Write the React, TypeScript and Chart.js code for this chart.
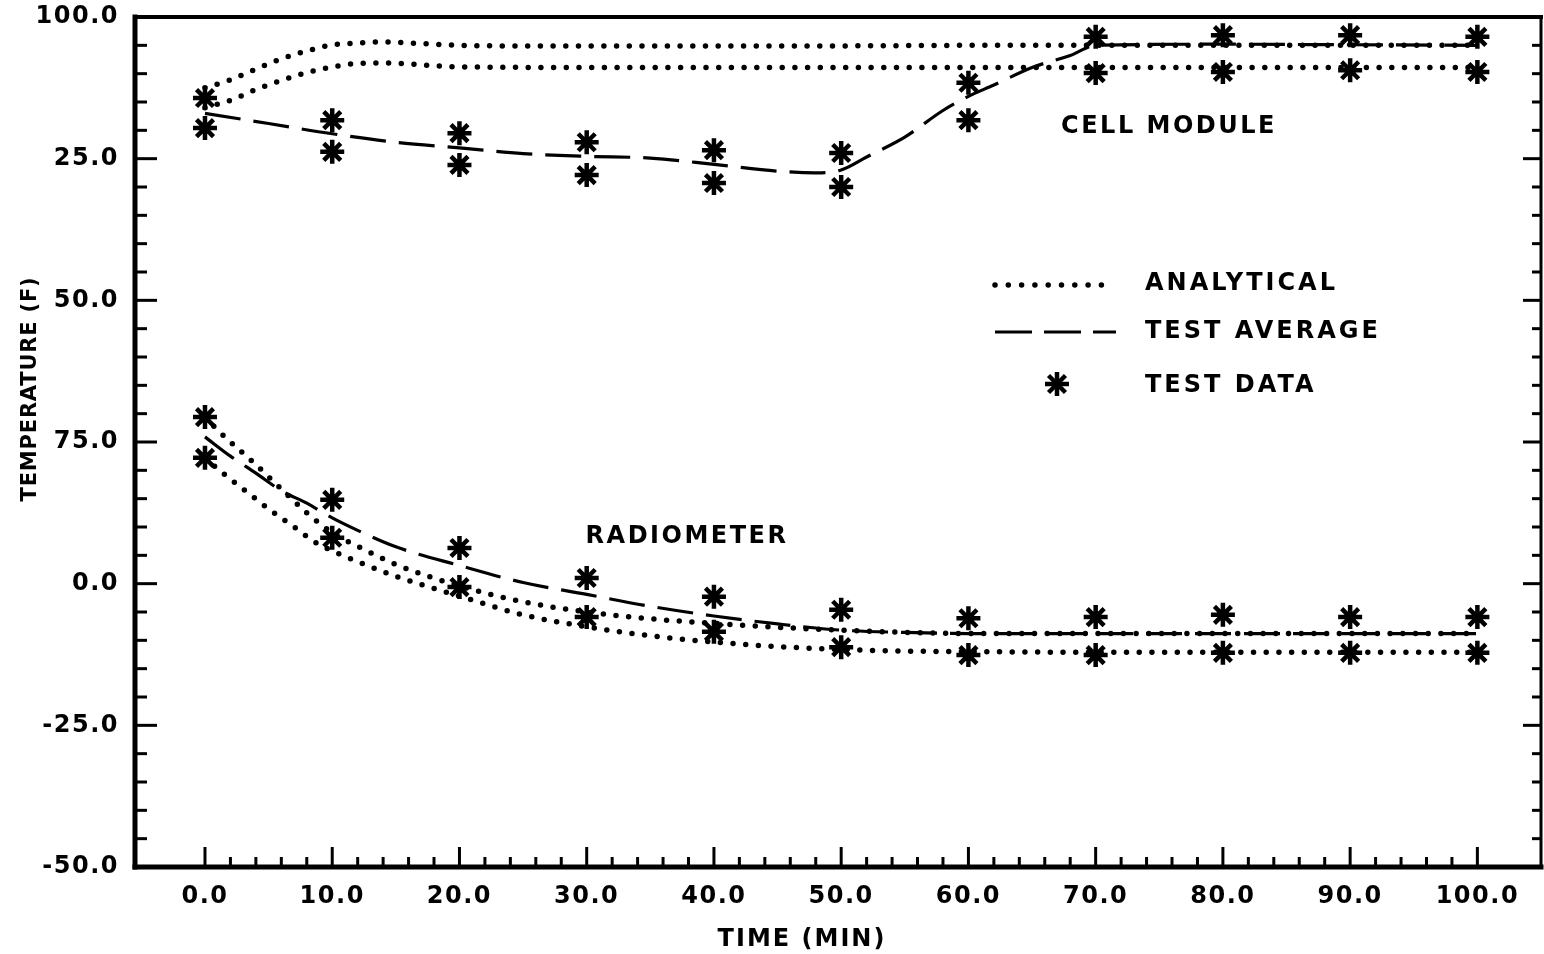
import React, { useEffect, useRef } from 'react';
import { Chart, registerables } from 'chart.js';

Chart.register(...registerables);

// ---- tick labels ----
const X_TICKS = [0, 10, 20, 30, 40, 50, 60, 70, 80, 90, 100];
const Y_TICK_VALUES = [100, 75, 50, 25, 0, -25, -50];
const Y_TICK_LABELS = ['100.0', '25.0', '50.0', '75.0', '0.0', '-25.0', '-50.0'];

// ---- test data (stars) ----
const DATA_TIMES = [0, 10, 20, 30, 40, 50, 60, 70, 80, 90, 100];
const CELL_DATA_HIGH = [85.7, 81.8, 79.5, 77.9, 76.5, 76.0, 88.4, 96.5, 96.8, 96.8, 96.5];
const CELL_DATA_LOW = [80.4, 76.2, 73.9, 72.1, 70.7, 70.0, 81.8, 90.1, 90.3, 90.6, 90.3];
const RAD_DATA_HIGH = [29.4, 14.8, 6.3, 1.0, -2.3, -4.6, -6.1, -5.9, -5.5, -5.9, -5.9];
const RAD_DATA_LOW = [22.2, 8.1, -0.6, -5.9, -8.5, -11.2, -12.6, -12.6, -12.2, -12.2, -12.2];

// ---- cell module analytical (dotted) ----
const CELL_ANA_HIGH_T = [0, 2, 4, 6, 8, 10, 12, 14, 17, 20, 25, 30, 40, 50, 60, 70, 80, 90, 100];
const CELL_ANA_HIGH = [87.5, 88.9, 90.8, 92.6, 94.0, 95.1, 95.4, 95.6, 95.3, 95.0, 94.9, 94.9, 94.9, 94.9, 95.0, 95.0, 95.0, 95.0, 95.0];
const CELL_ANA_LOW_T = [0, 2, 4, 6, 8, 10, 12, 14, 16, 18, 20, 30, 40, 50, 60, 70, 80, 90, 100];
const CELL_ANA_LOW = [84.0, 85.3, 87.2, 88.8, 90.2, 91.2, 91.8, 91.9, 91.7, 91.4, 91.2, 91.1, 91.1, 91.1, 91.1, 91.1, 91.1, 91.1, 91.1];

// ---- cell module test average (dashed) ----
const CELL_AVG_T = [0, 5, 10, 15, 20, 25, 30, 35, 40, 45, 48, 50, 52, 55, 58, 60, 62, 65, 68, 70, 80, 90, 100];
const CELL_AVG = [83.0, 81.2, 79.4, 77.9, 76.9, 75.9, 75.4, 75.1, 74.0, 72.8, 72.5, 73.0, 75.3, 78.8, 83.5, 86.0, 88.0, 91.1, 93.2, 95.0, 95.2, 95.1, 95.0];

// ---- radiometer analytical (dotted) ----
const RAD_ANA_HIGH_T = [0, 1, 2.5, 4, 6, 8, 10, 12, 15, 20, 25, 30, 35, 40, 45, 50, 55, 60, 70, 80, 90, 100];
const RAD_ANA_HIGH = [29.4, 27.1, 24.0, 21.0, 16.7, 12.5, 9.0, 6.6, 3.4, -0.4, -3.2, -5.0, -6.2, -7.0, -7.7, -8.2, -8.6, -8.8, -8.8, -8.8, -8.8, -8.8];
const RAD_ANA_LOW_T = [0, 1.3, 3, 5, 7, 8.6, 10, 12, 15, 20, 25, 30, 35, 40, 45, 50, 55, 60, 70, 80, 90, 100];
const RAD_ANA_LOW = [22.2, 19.7, 16.7, 13.2, 10.0, 7.4, 5.8, 3.9, 1.3, -2.2, -5.5, -7.6, -9.2, -10.3, -11.1, -11.6, -11.9, -12.0, -12.1, -12.1, -12.1, -12.1];

// ---- radiometer test average (dashed) ----
const RAD_AVG_T = [0, 2, 4, 6, 8, 10, 12, 15, 20, 25, 30, 35, 40, 45, 50, 55, 60, 70, 80, 90, 100];
const RAD_AVG = [25.9, 22.5, 19.5, 16.4, 14.2, 11.6, 9.4, 6.5, 3.2, 0.2, -1.9, -4.0, -5.7, -7.1, -8.2, -8.6, -8.8, -8.8, -8.8, -8.8, -8.8];

// ---- texts ----
const X_TITLE = 'TIME (MIN)';
const Y_TITLE = 'TEMPERATURE (F)';
const LEGEND_LABELS = ['ANALYTICAL', 'TEST AVERAGE', 'TEST DATA'];
const ANNOTATIONS = ['CELL MODULE', 'RADIOMETER'];

const FONT = '"DejaVu Sans", sans-serif';

const pts = (xs: number[], ys: number[]) => xs.map((x, i) => ({ x, y: ys[i] }));

const dotted = (xs: number[], ys: number[]) => ({
  data: pts(xs, ys),
  showLine: true,
  pointRadius: 0,
  borderColor: '#000',
  borderWidth: 5.5,
  borderDash: [0, 12.7],
  borderCapStyle: 'round',
  cubicInterpolationMode: 'monotone',
  fill: false,
});

const dashed = (xs: number[], ys: number[]) => ({
  data: pts(xs, ys),
  showLine: true,
  pointRadius: 0,
  borderColor: '#000',
  borderWidth: 3.2,
  borderDash: [36, 13],
  borderCapStyle: 'butt',
  cubicInterpolationMode: 'monotone',
  fill: false,
});

const stars = (xs: number[], ys: number[]) => ({
  data: pts(xs, ys),
  showLine: false,
  pointStyle: 'star',
  pointRadius: 12,
  pointBorderWidth: 4.5,
  pointBorderColor: '#000',
  pointBackgroundColor: '#000',
});

function drawText(ctx: CanvasRenderingContext2D, s: string, x: number, y: number, size: number, align: CanvasTextAlign, spacing: number) {
  ctx.font = `bold ${size}px ${FONT}`;
  (ctx as any).letterSpacing = `${spacing}px`;
  ctx.textAlign = align;
  ctx.textBaseline = 'middle';
  ctx.fillStyle = '#000';
  ctx.fillText(s, x, y);
}

function line(ctx: CanvasRenderingContext2D, x1: number, y1: number, x2: number, y2: number) {
  ctx.beginPath();
  ctx.moveTo(x1, y1);
  ctx.lineTo(x2, y2);
  ctx.stroke();
}

function drawStar(ctx: CanvasRenderingContext2D, x: number, y: number, r: number) {
  for (let k = 0; k < 4; k++) {
    const a = (k * Math.PI) / 4;
    line(ctx, x - r * Math.cos(a), y - r * Math.sin(a), x + r * Math.cos(a), y + r * Math.sin(a));
  }
}

const framePlugin = {
  id: 'frame',
  beforeDraw(chart: any) {
    chart.ctx.letterSpacing = '1.5px';
  },
  afterDraw(chart: any) {
    const { ctx, chartArea: a, scales } = chart;
    const xs = scales.x;
    const ys = scales.y;
    ctx.save();
    ctx.strokeStyle = '#000';
    ctx.setLineDash([]);
    ctx.lineCap = 'square';

    // frame
    ctx.lineWidth = 5;
    line(ctx, a.left, a.top, a.left, a.bottom);
    line(ctx, a.left, a.bottom, a.right, a.bottom);
    ctx.lineWidth = 4;
    line(ctx, a.left, a.top, a.right, a.top);
    ctx.lineWidth = 3;
    line(ctx, a.right, a.top, a.right, a.bottom);

    // inward ticks
    ctx.lineCap = 'butt';
    ctx.lineWidth = 3;
    for (let v = -45; v < 100; v += 5) {
      const y = ys.getPixelForValue(v);
      const major = v % 25 === 0;
      line(ctx, a.left, y, a.left + (major ? 22 : 12), y);
      line(ctx, a.right, y, a.right - (major ? 18 : 9), y);
    }
    for (let v = 0; v <= 100; v += 2) {
      const x = xs.getPixelForValue(v);
      const major = v % 10 === 0;
      line(ctx, x, a.bottom, x, a.bottom - (major ? 20 : 10));
    }

    // axis titles
    drawText(ctx, X_TITLE, a.left + 667, 940, 24, 'center', 2);
    ctx.save();
    ctx.translate(31, a.top + 372);
    ctx.rotate(-Math.PI / 2);
    drawText(ctx, Y_TITLE, 0, 0, 21, 'center', 0.8);
    ctx.restore();

    // annotations
    drawText(ctx, ANNOTATIONS[0], a.left + 1034, a.top + 110, 24, 'center', 2.5);
    drawText(ctx, ANNOTATIONS[1], a.left + 552, a.top + 520, 24, 'center', 2.5);

    // legend
    const lx0 = a.left + 860;
    const lx1 = a.left + 981;
    const tx = a.left + 1010;
    ctx.lineWidth = 5.5;
    ctx.lineCap = 'round';
    ctx.setLineDash([0, 13.3]);
    line(ctx, lx0, a.top + 268, lx1 - 2, a.top + 268);
    ctx.lineCap = 'butt';
    ctx.lineWidth = 3.2;
    ctx.setLineDash([37, 12]);
    line(ctx, lx0, a.top + 315, lx1, a.top + 315);
    ctx.setLineDash([]);
    ctx.lineWidth = 4.5;
    drawStar(ctx, a.left + 922, a.top + 367, 12);
    drawText(ctx, LEGEND_LABELS[0], tx, a.top + 267, 24, 'left', 3);
    drawText(ctx, LEGEND_LABELS[1], tx, a.top + 315, 24, 'left', 3);
    drawText(ctx, LEGEND_LABELS[2], tx, a.top + 369, 24, 'left', 3);

    ctx.restore();
  },
};

const zeroPad = (s: any) => {
  s.paddingTop = 0;
  s.paddingBottom = 0;
  s.paddingLeft = 0;
  s.paddingRight = 0;
};

export default function App() {
  const ref = useRef<HTMLCanvasElement>(null);

  useEffect(() => {
    const tickFont = { family: FONT, weight: 'bold' as const, size: 24 };
    const chart = new Chart(ref.current!, {
      type: 'scatter',
      data: {
        datasets: [
          stars(DATA_TIMES, CELL_DATA_HIGH),
          stars(DATA_TIMES, CELL_DATA_LOW),
          stars(DATA_TIMES, RAD_DATA_HIGH),
          stars(DATA_TIMES, RAD_DATA_LOW),
          dotted(CELL_ANA_HIGH_T, CELL_ANA_HIGH),
          dotted(CELL_ANA_LOW_T, CELL_ANA_LOW),
          dashed(CELL_AVG_T, CELL_AVG),
          dotted(RAD_ANA_HIGH_T, RAD_ANA_HIGH),
          dotted(RAD_ANA_LOW_T, RAD_ANA_LOW),
          dashed(RAD_AVG_T, RAD_AVG),
        ] as any,
      },
      options: {
        animation: false,
        responsive: false,
        devicePixelRatio: 1,
        layout: { autoPadding: false, padding: { left: 0, right: 3, top: 17, bottom: 0 } },
        plugins: {
          legend: { display: false },
          tooltip: { enabled: false },
        },
        scales: {
          x: {
            type: 'linear',
            min: -5.5,
            max: 105,
            grid: { display: false, drawTicks: false },
            border: { display: false },
            afterBuildTicks: (s: any) => {
              s.ticks = X_TICKS.map((v) => ({ value: v }));
            },
            afterFit: (s: any) => {
              s.height = 87;
              zeroPad(s);
            },
            ticks: {
              color: '#000',
              font: tickFont,
              padding: 15,
              maxRotation: 0,
              autoSkip: false,
              callback: (v: any) => Number(v).toFixed(1),
            },
          },
          y: {
            type: 'linear',
            min: -50,
            max: 100,
            grid: { display: false, drawTicks: false },
            border: { display: false },
            afterBuildTicks: (s: any) => {
              s.ticks = Y_TICK_VALUES.map((v) => ({ value: v }));
            },
            afterFit: (s: any) => {
              s.width = 135;
              zeroPad(s);
            },
            ticks: {
              color: '#000',
              font: tickFont,
              padding: 16,
              autoSkip: false,
              callback: (v: any) => Y_TICK_LABELS[Y_TICK_VALUES.indexOf(Number(v))],
            },
          },
        },
      } as any,
      plugins: [framePlugin],
    });
    return () => chart.destroy();
  }, []);

  return (
    <div style={{ position: 'fixed', left: 0, top: 0, width: 1544, height: 954, background: '#fff' }}>
      <canvas ref={ref} width={1544} height={954} style={{ display: 'block', width: 1544, height: 954 }} />
    </div>
  );
}
